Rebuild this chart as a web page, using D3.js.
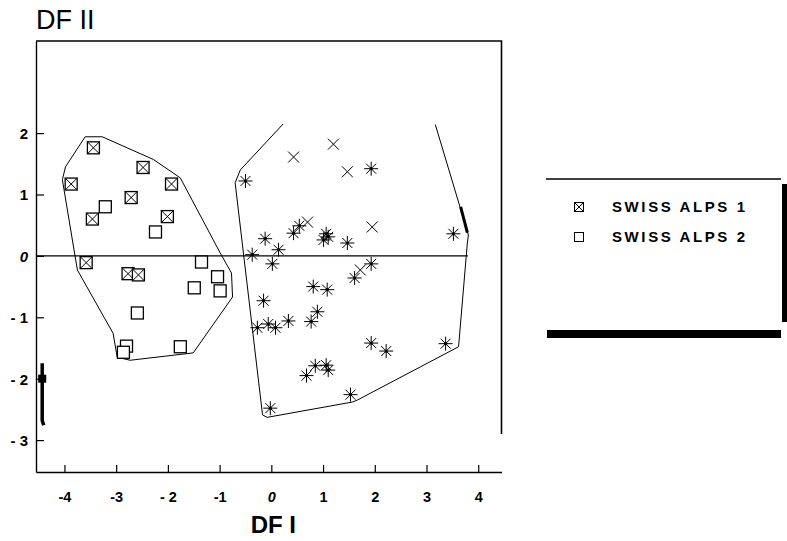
<!DOCTYPE html>
<html>
<head>
<meta charset="utf-8">
<script src="https://cdn.jsdelivr.net/npm/d3@7"></script>
<style>
  body { margin: 0; background: #fff; }
  text { font-family: "Liberation Sans", Arial, sans-serif; fill: #000; }
</style>
</head>
<body>
<script>
// ---- data (DF I, DF II) ----
var alps1 = [[-3.44,1.76],[-2.48,1.44],[-3.87,1.17],[-1.93,1.17],[-2.71,0.95],
             [-3.46,0.60],[-2.01,0.64],[-3.58,-0.11],[-2.77,-0.29],[-2.57,-0.31]];
var alps2 = [[-3.21,0.80],[-2.24,0.39],[-1.35,-0.10],[-1.04,-0.34],[-1.49,-0.52],
             [-0.99,-0.57],[-2.59,-0.93],[-2.80,-1.47],[-2.86,-1.57],[-1.76,-1.48]];
// unlabelled group on the right: asterisks and crosses
var stars = [[-0.50,1.22],[-0.12,0.28],[-0.37,0.02],[0.14,0.10],[0.02,-0.13],
             [0.43,0.37],[0.54,0.49],[1.06,0.36],[1.01,0.26],[1.10,0.31],
             [1.47,0.21],[1.93,1.42],[3.52,0.36],[1.93,-0.13],[1.61,-0.36],
             [0.81,-0.50],[1.08,-0.55],[-0.15,-0.73],[0.89,-0.91],[0.77,-1.07],
             [0.33,-1.06],[-0.06,-1.11],[-0.27,-1.17],[0.08,-1.17],[0.85,-1.79],
             [1.06,-1.78],[1.10,-1.86],[0.68,-1.95],[-0.02,-2.48],[1.53,-2.26],
             [1.93,-1.42],[2.22,-1.55],[3.37,-1.43]];
var crosses = [[1.20,1.82],[0.43,1.61],[1.47,1.37],[0.70,0.55],[1.95,0.47],[1.72,-0.23]];

// hand drawn envelopes
var hullLeft = [[-3.60,1.94],[-3.27,1.94],[-2.28,1.57],[-1.76,1.27],[-0.99,0.05],
                [-0.77,-0.28],[-0.75,-0.67],[-1.51,-1.58],[-2.73,-1.70],[-2.98,-1.65],
                [-3.06,-1.26],[-3.75,-0.23],[-4.04,1.24],[-3.98,1.45]];
var hullRight = [[3.17,2.14],[3.81,0.34],[3.79,0.21],[3.62,-1.48],[1.66,-2.35],
                 [1.57,-2.38],[-0.08,-2.63],[-0.17,-2.59],[-0.70,1.19],[-0.60,1.40],[0.23,2.15]];

var xTicks = [-4,-3,-2,-1,0,1,2,3,4];
var xTickLabels = ["-4","-3","- 2","-1","0","1","2","3","4"];
var yTicks = [-3,-2,-1,0,1,2];
var yTickLabels = ["- 3","- 2","- 1","0","1","2"];
var legendNames = ["SWISS ALPS 1","SWISS ALPS 2"];

// ---- layout ----
var W = 787, H = 541;
var svg = d3.select("body").append("svg").attr("width", W).attr("height", H);

var x = d3.scaleLinear().domain([-4.55, 4.45]).range([36, 501.5]);
var y = d3.scaleLinear().domain([-3.52, 3.50]).range([472, 41]);

// frame (top and right lines)
svg.append("path")
  .attr("d", "M" + x(-4.55) + "," + y(3.5) + "H" + x(4.45) + "V" + y(-2.9))
  .attr("fill", "none").attr("stroke", "#000").attr("stroke-width", 1.6);

// axes
var xAxis = d3.axisBottom(x).tickValues(xTicks).tickSize(-7).tickSizeOuter(0)
  .tickFormat(function(d, i) { return xTickLabels[i]; });
var gx = svg.append("g").attr("transform", "translate(0," + y(-3.52) + ")").call(xAxis);
gx.select(".domain").attr("stroke-width", 1.6);
gx.selectAll("text").attr("dy", 0).attr("y", 30)
  .style("font-size", "14.5px").style("font-weight", "bold")
  .style("font-style", function(d) { return d === 0 ? "italic" : "normal"; });

var yAxis = d3.axisLeft(y).tickValues(yTicks).tickSize(-8).tickSizeOuter(0)
  .tickFormat(function(d, i) { return yTickLabels[i]; });
var gy = svg.append("g").attr("transform", "translate(" + x(-4.55) + ",0)").call(yAxis);
gy.select(".domain").attr("stroke-width", 1.4);
gy.selectAll("text").attr("x", -8).attr("dy", "0.36em")
  .style("font-size", "15px").style("font-weight", "bold")
  .style("font-style", function(d) { return d === 0 ? "italic" : "normal"; });
svg.selectAll(".tick line").attr("stroke-width", 1.2);

// zero line
svg.append("line")
  .attr("x1", x(-4.55)).attr("x2", x(3.8))
  .attr("y1", y(0)).attr("y2", y(0))
  .attr("stroke", "#000").attr("stroke-width", 1.1);

// envelopes
var line = d3.line().x(function(d) { return x(d[0]); }).y(function(d) { return y(d[1]); });
svg.append("path").attr("d", line(hullLeft) + "Z")
  .attr("fill", "none").attr("stroke", "#000").attr("stroke-width", 1);
svg.append("path").attr("d", line(hullRight))
  .attr("fill", "none").attr("stroke", "#000").attr("stroke-width", 1);
// heavy stroke on right envelope
svg.append("path").attr("d", line([[3.66,0.80],[3.79,0.38]]))
  .attr("stroke", "#000").attr("stroke-width", 3);
// scan mark on the y axis
svg.append("path").attr("d", line([[-4.43,-1.75],[-4.43,-2.68],[-4.40,-2.76]]))
  .attr("fill", "none").attr("stroke", "#000").attr("stroke-width", 3.5);
svg.append("rect").attr("x", x(-4.43) - 4).attr("y", y(-2.0) - 4)
  .attr("width", 8).attr("height", 8).attr("fill", "#000");

// ---- markers ----
var s = 6;
function boxX(g) {
  g.append("rect").attr("x", -s).attr("y", -s).attr("width", 2 * s).attr("height", 2 * s)
    .attr("fill", "#fff").attr("stroke", "#000").attr("stroke-width", 1.3);
  g.append("path").attr("d", "M" + (-s) + "," + (-s) + "L" + s + "," + s + "M" + s + "," + (-s) + "L" + (-s) + "," + s)
    .attr("stroke", "#000").attr("stroke-width", 1);
}
function box(g) {
  g.append("rect").attr("x", -s).attr("y", -s).attr("width", 2 * s).attr("height", 2 * s)
    .attr("fill", "#fff").attr("stroke", "#000").attr("stroke-width", 1.3);
}
function star(g) {
  var r = 7, d = 5;
  g.append("path")
    .attr("d", "M0," + (-r) + "V" + r + "M" + (-r) + ",0H" + r +
               "M" + (-d) + "," + (-d) + "L" + d + "," + d + "M" + d + "," + (-d) + "L" + (-d) + "," + d)
    .attr("stroke", "#000").attr("stroke-width", 1);
  g.append("circle").attr("r", 1.6).attr("fill", "#000");
}
function cross(g) {
  var d = 5.5;
  g.append("path")
    .attr("d", "M" + (-d) + "," + (-d) + "L" + d + "," + d + "M" + d + "," + (-d) + "L" + (-d) + "," + d)
    .attr("stroke", "#000").attr("stroke-width", 1);
}
function plot(data, draw) {
  svg.append("g").selectAll("g").data(data).enter().append("g")
    .attr("transform", function(d) { return "translate(" + x(d[0]) + "," + y(d[1]) + ")"; })
    .each(function() { draw(d3.select(this)); });
}
plot(alps1, boxX);
plot(alps2, box);
plot(stars, star);
plot(crosses, cross);

// titles
svg.append("text").attr("x", 36).attr("y", 29)
  .style("font-size", "27px").text("DF II");
svg.append("text").attr("x", x(0) + 2).attr("y", 533).attr("text-anchor", "middle")
  .style("font-size", "24px").style("font-weight", "bold").text("DF I");

// ---- legend ----
var lg = svg.append("g");
lg.append("line").attr("x1", 546).attr("x2", 781).attr("y1", 179).attr("y2", 179)
  .attr("stroke", "#000").attr("stroke-width", 1.5);
lg.append("rect").attr("x", 782).attr("y", 184).attr("width", 5).attr("height", 138).attr("fill", "#000");
lg.append("rect").attr("x", 547).attr("y", 330).attr("width", 234).attr("height", 8).attr("fill", "#000");
var items = lg.selectAll("g.item").data(legendNames).enter().append("g")
  .attr("class", "item")
  .attr("transform", function(d, i) { return "translate(579," + (207 + i * 30) + ")"; });
items.each(function(d, i) {
  var g = d3.select(this);
  var s0 = s; s = 4.5;
  if (i === 0) boxX(g); else box(g);
  g.selectAll("rect").attr("stroke-width", 1);
  s = s0;
});
items.append("text").attr("x", 33).attr("dy", "0.36em")
  .style("font-size", "15px").style("font-weight", "bold").style("letter-spacing", "2.6px")
  .text(function(d) { return d; });
</script>
</body>
</html>
